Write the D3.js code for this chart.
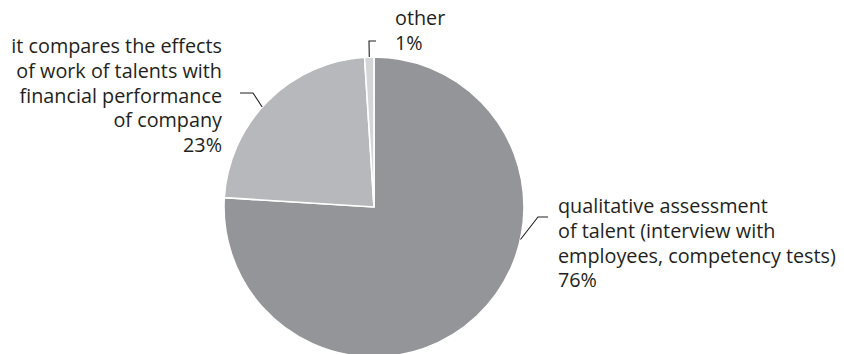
<!DOCTYPE html>
<html>
<head>
<meta charset="utf-8">
<script src="https://cdn.jsdelivr.net/npm/d3@7"></script>
<style>
  html, body { margin: 0; padding: 0; background: #fff; }
  svg { display: block; }
  text { font-family: "Open Sans", sans-serif; font-size: 19.8px; fill: #231f20; }
</style>
</head>
<body>
<svg id="chart" width="844" height="354"></svg>
<script>
// Ways companies evaluate the work of talents (share of answers)
const categories = [
  "qualitative assessment|of talent (interview with|employees, competency tests)",
  "it compares the effects|of work of talents with|financial performance|of company",
  "other"
];
const values = [76, 23, 1];
const valueLabels = ["76%", "23%", "1%"];
const colors = ["#939598", "#b7b8bb", "#d4d5d7"];

const svg = d3.select("#chart");
const cx = 374, cy = 207, radius = 150;

const pie = d3.pie().sort(null).value(d => d.value);
const arcs = pie(values.map((v, i) => ({ value: v, i })));
const arc = d3.arc().innerRadius(0).outerRadius(radius);

const g = svg.append("g").attr("transform", `translate(${cx},${cy})`);

g.selectAll("path.slice")
  .data(arcs)
  .join("path")
  .attr("class", "slice")
  .attr("d", arc)
  .attr("fill", d => colors[d.data.i])
  .attr("stroke", "#fff")
  .attr("stroke-width", 1.6)
  .attr("stroke-linejoin", "miter");

// point on the rim for a given angle (radians, clockwise from 12 o'clock)
const rim = a => [radius * Math.sin(a), -radius * Math.cos(a)];
const mid = d => (d.startAngle + d.endAngle) / 2;
const deg = Math.PI / 180;

// leader layout: anchor angle on the rim, elbow and end of the line, text placement
const layout = [
  { angle: d => 102.5 * deg, elbow: [164, 10], end: [174, 10], tx: 184, ty: 6, anchor: "start" },
  { angle: d => mid(d) - 3.2 * deg, elbow: [-121, -114], end: [-134, -114], tx: -152, ty: -154, anchor: "end" },
  { angle: d => mid(d), elbow: [-5, -166], end: [2, -166], tx: 21, ty: -182, anchor: "start" }
];

arcs.forEach(d => {
  const L = layout[d.data.i];
  const p = rim(L.angle(d));
  g.append("path")
    .attr("d", d3.line()([p, L.elbow, L.end]))
    .attr("fill", "none")
    .attr("stroke", "#231f20")
    .attr("stroke-width", 1.1);

  const lines = categories[d.data.i].split("|").concat([valueLabels[d.data.i]]);
  const t = g.append("text")
    .attr("x", L.tx)
    .attr("y", L.ty)
    .attr("text-anchor", L.anchor);
  lines.forEach((s, k) => {
    t.append("tspan")
      .attr("x", L.tx)
      .attr("dy", k === 0 ? 0 : 24.8)
      .text(s);
  });
});
</script>
</body>
</html>
